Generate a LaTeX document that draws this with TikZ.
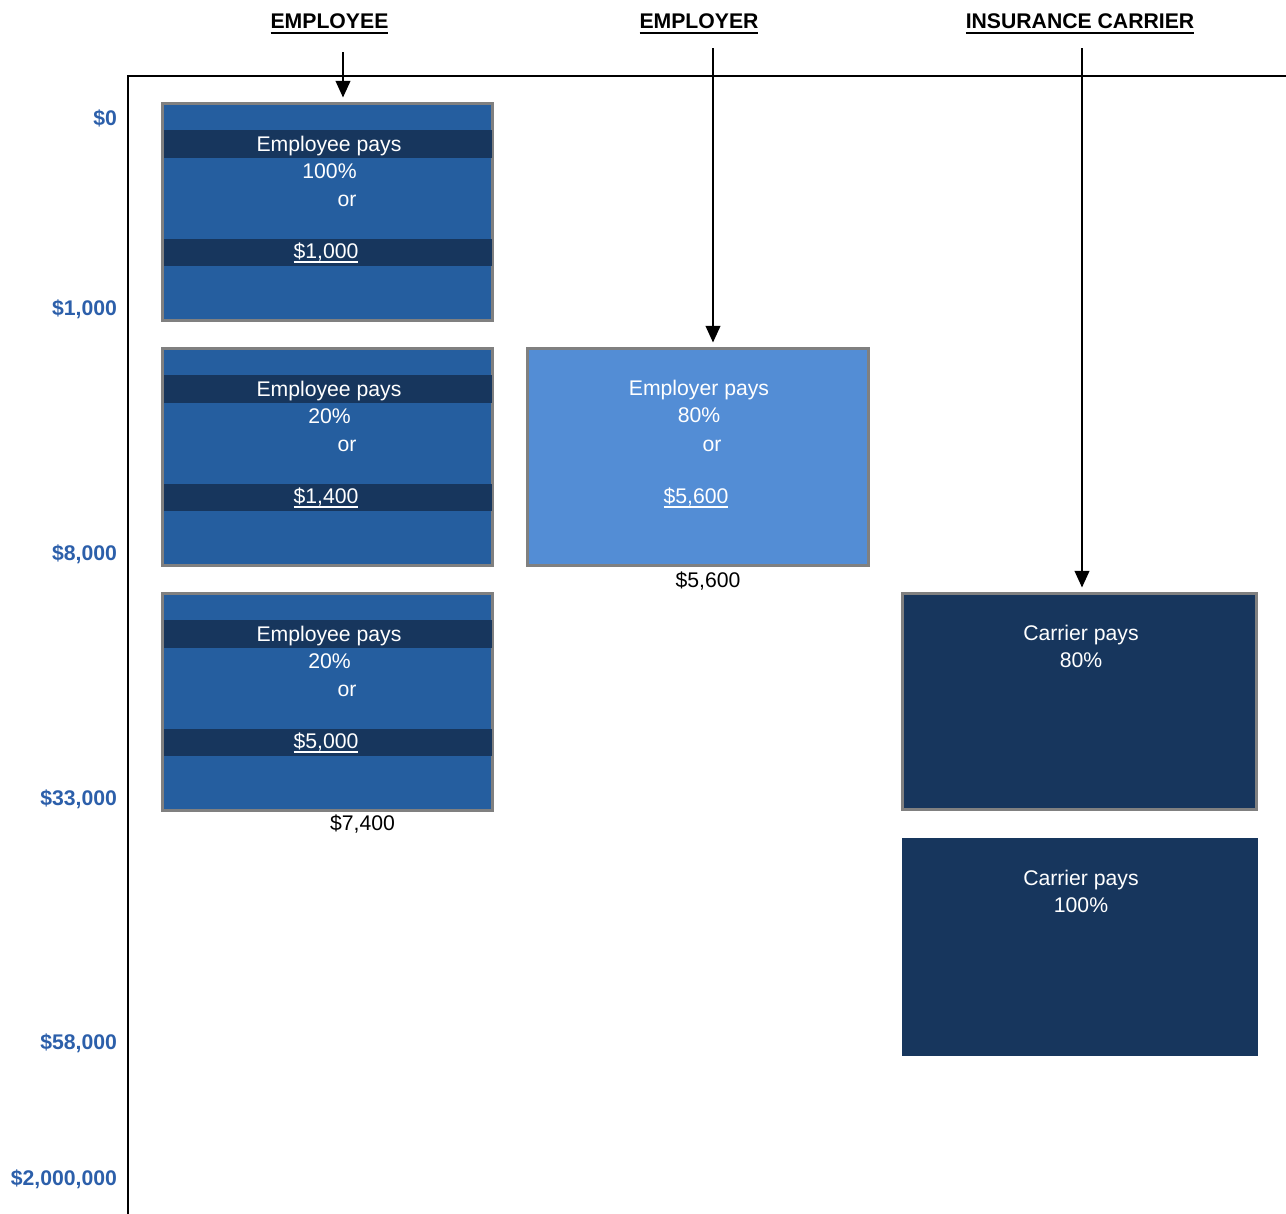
\documentclass[tikz,border=0pt]{standalone}
\usepackage{fontspec}
\setmainfont{Liberation Sans}
\usetikzlibrary{arrows.meta,fit}
\definecolor{midblue}{HTML}{255E9F}
\definecolor{darkblue}{HTML}{17365D}
\definecolor{lightblue}{HTML}{538DD5}
\definecolor{axisblue}{HTML}{2C5FAA}
\definecolor{bordergray}{HTML}{808080}
\newcommand\myul[3]{\setbox0\hbox{#3}\rlap{\rule[#1]{\wd0}{#2}}\box0}
\tikzset{
  base/.style={font=\fontsize{15.9pt}{19pt}\selectfont, inner sep=0pt, outer sep=0pt},
  boxtxt/.style={base, anchor=base, text=white},
  ylab/.style={base, anchor=base east, text=axisblue, font=\fontsize{15.9pt}{19pt}\selectfont\bfseries},
  head/.style={base, anchor=base, font=\fontsize{15.9pt}{19pt}\selectfont\bfseries},
  ebox/.style={inner sep=0pt, outer sep=0pt, fill=midblue, draw=bordergray, line width=2.2pt},
  rbox/.style={inner sep=0pt, outer sep=0pt, fill=lightblue, draw=bordergray, line width=2.2pt},
  cbox/.style={inner sep=0pt, outer sep=0pt, fill=darkblue, draw=bordergray, line width=2.2pt},
  cboxplain/.style={inner sep=0pt, outer sep=0pt, fill=darkblue},
  band/.style={inner sep=0pt, outer sep=0pt, fill=darkblue},
  arr/.style={line width=1.5pt, -{Triangle[width=11pt,length=12.5pt]}, shorten >=4.5pt},
  axisline/.style={line width=2.2pt}
}
\begin{document}
\begin{tikzpicture}[x=0.75pt,y=-0.75pt]
\useasboundingbox (0,0) rectangle (1286,1214);

% axes
\coordinate (o) at (128,76);
\coordinate (ybot) at (128,1214);
\coordinate (xend) at (1286,76);
\draw[axisline] (ybot) -- (o) -- (xend);

% headers
\node[head] (hemp) at (329.5,28.5) {\myul{-4.3pt}{1.7pt}{EMPLOYEE}};
\node[head] (hempr) at (699,28.5) {\myul{-4.3pt}{1.7pt}{EMPLOYER}};
\node[head] (hcar) at (1080,28.5) {\myul{-4.3pt}{1.7pt}{INSURANCE CARRIER}};

% y labels
\node[ylab] (y0) at (117,125.5) {\$0};
\node[ylab] (y1) at (117,315.5) {\$1,000};
\node[ylab] (y2) at (117,560.5) {\$8,000};
\node[ylab] (y3) at (117,805.5) {\$33,000};
\node[ylab] (y4) at (117,1049.5) {\$58,000};
\node[ylab] (y5) at (117,1185.5) {\$2,000,000};

% employee boxes
\foreach \i/\T/\p/\v in {1/102/{100\%}/{\$1,000}, 2/347/{20\%}/{\$1,400}, 3/592/{20\%}/{\$5,000}}{
  \node[ebox, fit={(162.5,\T+1.5) (492.5,\T+218.5)}] (e\i) {};
  \node[band, fit={(164,\T+28) (491.5,\T+56)}] (e\i b1) {};
  \node[band, fit={(164,\T+137) (491.5,\T+164)}] (e\i b2) {};
  \node[boxtxt] (e\i t1) at (329,\T+49) {Employee pays};
  \node[boxtxt] (e\i t2) at (329.5,\T+76.5) {\p};
  \node[boxtxt] (e\i t3) at (347,\T+104) {or};
  \node[boxtxt] (e\i t4) at (326,\T+156) {\myul{-3.6pt}{1pt}{\v}};
}
\node[base, anchor=base] (etot) at (362.5,830) {\$7,400};

% employer box
\node[rbox, fit={(527.5,348.5) (868.5,565.5)}] (r1) {};
\node[boxtxt] (r1t1) at (699,395) {Employer pays};
\node[boxtxt] (r1t2) at (699,422.5) {80\%};
\node[boxtxt] (r1t3) at (712,451) {or};
\node[boxtxt] (r1t4) at (696,503) {\myul{-3.6pt}{1pt}{\$5,600}};
\node[base, anchor=base] (rtot) at (708,587) {\$5,600};

% carrier boxes
\node[cbox, fit={(902.5,593.5) (1256.5,809.5)}] (c1) {};
\node[boxtxt] (c1t1) at (1081,640) {Carrier pays};
\node[boxtxt] (c1t2) at (1081,667) {80\%};
\node[cboxplain, fit={(902,838) (1258,1056)}] (c2) {};
\node[boxtxt] (c2t1) at (1081,885) {Carrier pays};
\node[boxtxt] (c2t2) at (1081,912) {100\%};

% arrows
\coordinate (aE) at (343,52);
\coordinate (aR) at (713,48);
\coordinate (aC) at (1082,48);
\draw[arr] (aE) -- (aE |- e1.north);
\draw[arr] (aR) -- (aR |- r1.north);
\draw[arr] (aC) -- (aC |- c1.north);
\end{tikzpicture}
\end{document}
